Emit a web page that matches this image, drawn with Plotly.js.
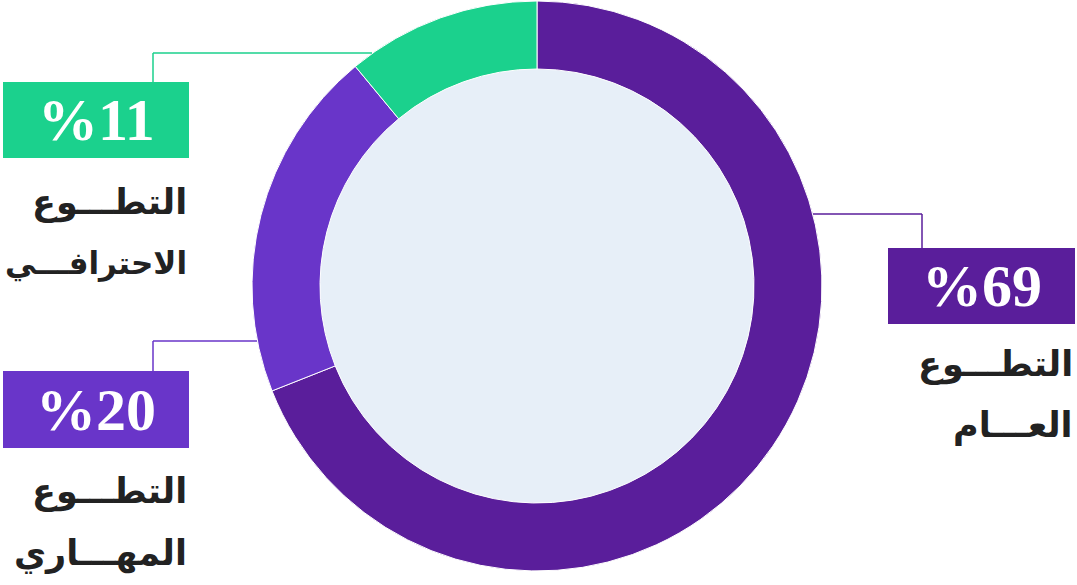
<!DOCTYPE html>
<html><head><meta charset="utf-8">
<script src="https://cdn.plot.ly/plotly-3.0.1.min.js"></script>
<style>html,body{margin:0;padding:0;background:#fff}#chart{width:1077px;height:585px}</style>
</head><body><div id="chart"></div>
<script>
// Data
const categories = ["التطوع العام", "التطوع المهاري", "التطوع الاحترافي"];
const values = [69, 20, 11];
const labelLine1 = ["التطـــوع", "التطـــوع", "التطـــوع"];
const labelLine2 = ["العـــام", "المهـــاري", "الاحترافـــي"];
const colors = ["#5a1e9b", "#6935c9", "#1bd18d"];

const W = 1077, H = 585;
const px = x => x / W, py = y => 1 - y / H;

// donut geometry (pixels)
const cx = 537, cy = 286, R = 285, r = 217;

const pie = {
  type: "pie",
  values: values,
  labels: categories,
  sort: false,
  direction: "clockwise",
  rotation: 0,
  hole: r / R,
  textinfo: "none",
  hoverinfo: "label+percent",
  marker: { colors: colors, line: { color: "#ffffff", width: 1 } },
  domain: { x: [px(cx - R), px(cx + R)], y: [py(cy + R), py(cy - R)] },
  showlegend: false
};

// label boxes layout (pixels): [left, top, right, bottom], leader path
const boxes = [
  { b: [888, 248, 1075, 324], lx: 922, ly: 214, ex: 813, right: 1075, t1: 364, t2: 425, s2: 35 },
  { b: [3, 371, 189, 448], lx: 153, ly: 341, ex: 257, right: 189, t1: 491, t2: 553, s2: 35 },
  { b: [3, 82, 189, 158], lx: 153, ly: 53, ex: 372, right: 189, t1: 202, t2: 264, s2: 31 }
];

const shapes = [{
  type: "circle", xref: "paper", yref: "paper", layer: "below",
  x0: px(cx - r), x1: px(cx + r), y0: py(cy + r), y1: py(cy - r),
  fillcolor: "#e7eff8", line: { width: 0 }
}];
const annotations = [];
boxes.forEach((bx, i) => {
  const [l, t, rr, b] = bx.b;
  shapes.push({ type: "rect", xref: "paper", yref: "paper", x0: px(l), x1: px(rr), y0: py(b), y1: py(t),
    fillcolor: colors[i], line: { width: 0 } });
  shapes.push({ type: "line", xref: "paper", yref: "paper", x0: px(bx.lx), x1: px(bx.lx), y0: py(t), y1: py(bx.ly),
    line: { color: colors[i], width: 1.5 } });
  shapes.push({ type: "line", xref: "paper", yref: "paper", x0: px(bx.lx), x1: px(bx.ex), y0: py(bx.ly), y1: py(bx.ly),
    line: { color: colors[i], width: 1.5 } });
  annotations.push({ xref: "paper", yref: "paper", x: px((l + rr) / 2), y: py((t + b) / 2),
    xanchor: "center", yanchor: "middle", showarrow: false,
    text: "%" + values[i],
    font: { family: "Liberation Serif, DejaVu Serif, serif", size: 60, color: "#ffffff", weight: "bold" } });
  annotations.push({ xref: "paper", yref: "paper", x: px(bx.right), y: py(bx.t1),
    xanchor: "right", yanchor: "middle", showarrow: false, text: labelLine1[i],
    font: { family: "DejaVu Sans, Noto Sans, sans-serif", size: 35, color: "#222222", weight: "bold" } });
  annotations.push({ xref: "paper", yref: "paper", x: px(bx.right), y: py(bx.t2),
    xanchor: "right", yanchor: "middle", showarrow: false, text: labelLine2[i],
    font: { family: "DejaVu Sans, Noto Sans, sans-serif", size: bx.s2, color: "#222222", weight: "bold" } });
});

const layout = {
  width: W, height: H,
  margin: { l: 0, r: 0, t: 0, b: 0 },
  paper_bgcolor: "#ffffff", plot_bgcolor: "#ffffff",
  shapes: shapes, annotations: annotations, showlegend: false
};
Plotly.newPlot("chart", [pie], layout, { displayModeBar: false, staticPlot: true });
</script></body></html>
